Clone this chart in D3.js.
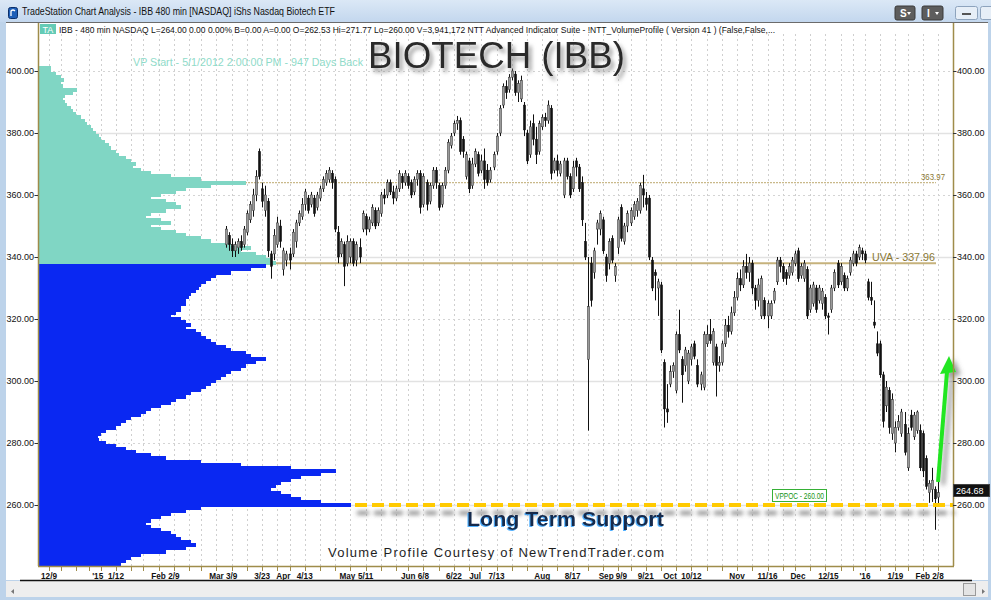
<!DOCTYPE html>
<html><head><meta charset="utf-8">
<script src="https://cdn.jsdelivr.net/npm/d3@7"></script>
<style>body{margin:0;background:#fff;overflow:hidden}svg{display:block}</style>
</head><body>
<script>
// ---------------- DATA ----------------
const firstBar = 58; // trading-day index (0 = 12/9/2014) of first drawn bar
const open = [344,347,344,342,343,345,344,348,352,355,360,374,362,355,358,341,341,344,350,336,339,341,341,345,351,353,357,359,357,359,356,359,362,364,365,367,365,348,341,344,338,340,345,339,343,349,353,349,351,355,351,354,360,360,364,361,359,362,366,364,366,364,361,365,367,357,364,358,363,368,363,357,363,368,376,380,383,384,378,366,371,363,370,373,368,371,368,365,369,374,380,389,395,394,398,399,393,391,389,380,373,383,378,374,382,385,384,388,368,371,367,360,371,366,362,371,369,364,345,307,338,335,349,349,352,340,338,346,334,343,356,345,350,351,353,355,355,362,359,359,339,335,330,331,306,291,299,303,297,315,307,305,300,307,312,305,299,298,312,315,306,311,305,306,312,318,316,322,327,333,331,337,335,338,330,326,321,326,321,321,326,332,339,337,335,334,335,338,342,334,333,336,323,325,330,326,325,327,321,323,330,338,332,334,330,335,338,341,340,342,341,332,327,319,312,312,302,292,297,283,280,285,283,286,272,289,282,284,284,283,275,264,265,265,262.53];
const high = [350,348,346,345,346,347,350,355,358,362,368,375,364,363,359,342,349,353,352,343,342,343,349,352,355,359,362,360,361,360,361,363,366,368,369,368,366,350,346,345,347,346,346,345,346,355,354,353,357,356,356,361,362,365,365,363,363,368,367,368,367,365,366,368,368,367,365,364,369,369,364,364,369,378,380,384,385.5,385,379,374,372,372,375,374,373,375,370,369,374,380,389,396,397,399,400.8,400,397,398.5,390,381,384,386,382,384,386,386.5,390.5,389,372,373,371,372,372,367,371,372,370,366,351,340,340,343,352,355,353,341,346,347,338,353,357,351,355,356,358,359,364,366.5,361,360,340,336,333,332,307,299,305,306,316,323,308,311,310,312,313,307,303,316,318,320,317,312,308,313,320,321,324,329,335,336,339,341,340,339,331,333,334,327,326,326,330,340,340,338,336,338,340,342,343,338,339,337,331,332,331,331,330,328,322,331,336,339,338,335,334,340,342,342,344,343,342,333,332,326,316,313,303,300,298,296,287,289,291,290,285,290.7,290,290.5,286,284,276,268,272,266,271.77];
const low = [343,342,340,340,341,342,343,347,351,353,358,365,356,353,340,333,339,343,343,334,337,336,340,343,350,352,355,354,356,353,355,358,361,363,364,362,348,338,340,330.6,337,338,337,337,338,348,347,348,350,349,350,353,357,359,360,357,358,361,362,363,362,359,360,363,354,356,355,357,362,362,355,356,362,367,375,379,381,373,372,365,360.6,362,369,366,367,362,363,364,368,373,379,388,391,393,397,392,390,390,379,370,372,376,370,373,381,382,383,365,367,366,366,359,365,359,361,366,361,350,339,284,324,333,344,347,341,332,336,338,332,341,345,344,348,350,352,353,354,356,355,339,329,326,321,309,285,286.5,298,301,296,309,293,303,299,305,307,298,297,297,311,312,305,295,303,305,311,314,315,321,326,329,330,333,332,328,323,324,320,320,317,320,325,331,335,332,331,333,334,337,332,333,332,320,322,324,322,325,323,320,315,322,329,330,331,329,329,334,337,337,339,339,338,326,324.5,317,308,301,285,290,283,281,277,284,282,276,271,284,281,283,271,269,265,260.7,261,252,260];
const close = [349,344,342,344,345,343,349,354,357,360,366,366,358,360,342,337,347,351,345,342,341,339,348,351,354,357,361,355,360,354,360,362,365,367,368,364,349,340,345,337,345,345,338,344,340,354,349,352,356,350,355,360,359,364,361,359,362,367,364,367,363,360,365,367,356,366,357,363,368,364,356,363,368,377,379,383,384,374,374,373,362,370,374,367,371,365,364,368,373,379,388,395,393,398,400,393,396,397,381,371,382,378,373,383,385,384,389,367,371,368,370,371,366,360,369,369,362,352,340,324,326,342,351,354,342,334,345,339,337,352,346,350,354,355,357,358,363,360,357,340,330,334,332,310,291,290,303,305,315,310,302,310,309,311,308,299,302,315,315,313,316,305,306,312,318,316,322,327,333,331,337,335,338,330,326,331,333,321,325,325,329,339,337,333,333,337,339,341,333,337,338,321,330,331,323,330,329,321,320.5,330,335,331,337,330,333,339,341,338,343,341,339,327,326,318,309,302,287,298,285,294,285,287,290,277,283,285,289,290,272,271,266,267,268,262,264];

// volume profile (5/1/2012 start), one bin per 1.00 price level from 401 down to 241
const profileVolume = [12,12,17,22,25,22,24,38,34,26,24,26,28,32,34,37,42,46,48,52,54,57,60,62,66,70,72,77,80,87,92,97,94,102,112,132,162,207,172,147,137,122,112,127,137,142,127,112,107,122,132,112,122,137,147,162,172,192,212,202,217,227,232,237,
227,212,192,177,172,167,162,160,157,152,150,147,147,142,142,137,132,142,147,152,147,157,162,167,172,177,187,192,207,212,227,217,207,202,192,187,182,177,172,167,162,152,147,137,132,122,112,107,102,92,87,82,77,67,62,59,60,67,77,87,97,112,127,162,202,252,297,282,262,252,242,237,232,242,252,262,282,312,162,147,132,122,112,107,112,122,132,137,142,152,157,147,127,102,92,87,82];
const profileTop = 401;

const uva = 337.96, level2 = 363.97, vppoc = 260.00, lastPrice = 264.68;
const yTicks = [260,280,300,320,340,360,380,400];
const tickLabels = ["12/9","'15","1/12","Feb","2/9","Mar","3/9","3/23","Apr","4/13","May","5/11","Jun","6/8","6/22","Jul","7/13","Aug","8/17","Sep","9/9","9/21","Oct","10/12","Nov","11/16","Dec","12/15","'16","1/19","Feb","2/8"];
const tickIdx = [0,16,22,36,41,55,60,70,77,84,98,104,118,123,133,140,147,162,172,183,188,196,204,211,226,236,246,256,268,278,287,292];
const weekIdx = [0,4,9,13,17,22,27,31,36,41,46,50,55,60,65,70,75,79,84,89,94,99,104,109,114,118,123,128,133,138,142,147,152,157,162,167,172,177,182,187,191,196,201,206,211,216,221,226,231,236,241,245,250,255,260,264,268,273,278,282,287,292];

// ---------------- LAYOUT ----------------
const W = 991, H = 600;
const PL = 38, PR = 953, PT = 22, PB = 566;
const x = d3.scaleLinear().domain([0, 292]).range([49, 938]);
const y = d3.scaleLinear().domain([260, 400]).range([505, 71]);
const gold = "#9f8c4a";
const FONT = "'Liberation Sans', Arial, sans-serif";

const svg = d3.select("body").append("svg").attr("width", W).attr("height", H)
  .style("font-family", FONT);
const defs = svg.append("defs");
const g1 = defs.append("linearGradient").attr("id","tb").attr("x1",0).attr("y1",0).attr("x2",0).attr("y2",1);
g1.append("stop").attr("offset","0%").attr("stop-color","#dbe8f6");
g1.append("stop").attr("offset","100%").attr("stop-color","#c3d7ee");
function shadow(id, dx, dy, sd, col, op){
  const f = defs.append("filter").attr("id", id).attr("filterUnits","userSpaceOnUse")
    .attr("x",0).attr("y",0).attr("width",W).attr("height",H);
  f.append("feDropShadow").attr("dx",dx).attr("dy",dy).attr("stdDeviation",sd).attr("flood-color",col).attr("flood-opacity",op);
}
shadow("tshadow", 3, 4, 2, "#777", 0.75);
shadow("lshadow", 2, 8, 2.2, "#555", 0.65);
shadow("ashadow", 5, 3, 2.5, "#555", 0.6);
shadow("bshadow", -1, 1, 0.6, "#3fa9ff", 0.9);
const clip = defs.append("clipPath").attr("id","plot");
clip.append("rect").attr("x",PL+1).attr("y",PT+1).attr("width",PR-PL-1).attr("height",PB-PT-1);

// window frame
svg.append("rect").attr("width",W).attr("height",H).attr("fill","#bdd3ea");
svg.append("rect").attr("x",0).attr("y",0).attr("width",W).attr("height",22).attr("fill","url(#tb)");
svg.append("rect").attr("x",8.5).attr("y",7.5).attr("width",9).attr("height",11).attr("rx",2).attr("fill","#1e5fb8").attr("stroke","#0c2f6a");
svg.append("path").attr("d","M11 16 L11 11 Q13 9 15 11").attr("stroke","#fff").attr("stroke-width",1.3).attr("fill","none");
svg.append("text").attr("x",22).attr("y",15).attr("font-size",10.5).attr("fill","#111")
  .attr("textLength",313).attr("lengthAdjust","spacingAndGlyphs")
  .text("TradeStation Chart Analysis - IBB 480 min [NASDAQ] iShs Nasdaq Biotech ETF");
// title buttons
[["S",895,915],["I",922,943]].forEach(([t,a,b])=>{
  svg.append("rect").attr("x",a).attr("y",6).attr("width",b-a).attr("height",14).attr("rx",2).attr("fill","#5d5d5d").attr("stroke","#3a3a3a");
  svg.append("text").attr("x",a+5).attr("y",17).attr("font-size",10).attr("font-weight","bold").attr("fill","#fff").text(t);
  svg.append("path").attr("d",`M${b-8} 12 l4 0 l-2 3 z`).attr("fill","#fff");
});
svg.append("rect").attr("x",955.5).attr("y",6.5).attr("width",22).attr("height",13).attr("rx",2).attr("fill","#e6eef7").attr("stroke","#8da3bd");
svg.append("rect").attr("x",962).attr("y",13).attr("width",9).attr("height",2).attr("fill","#555");
svg.append("rect").attr("x",980.5).attr("y",6.5).attr("width",14).attr("height",13).attr("rx",2).attr("fill","#e6eef7").attr("stroke","#8da3bd");

// white chart body
svg.append("rect").attr("x",6).attr("y",PT).attr("width",W-9).attr("height",580-PT).attr("fill","#fff");
svg.append("line").attr("x1",6).attr("x2",W-3).attr("y1",PT+0.5).attr("y2",PT+0.5).attr("stroke","#6b6b6b");
// scrollbar
svg.append("rect").attr("x",6).attr("y",581).attr("width",W-9).attr("height",16).attr("fill","#eeeeee");
svg.append("line").attr("x1",20).attr("x2",972).attr("y1",580.5).attr("y2",580.5).attr("stroke","#111").attr("stroke-width",1.5);
svg.append("path").attr("d","M14 589 l-3 2.5 l3 2.5 z").attr("fill","#777");
svg.append("rect").attr("x",963.5).attr("y",583.5).attr("width",12).attr("height",12).attr("fill","#e4e4e4").attr("stroke","#9a9a9a");
svg.append("path").attr("d","M982 589 l3 2.5 l-3 2.5 z").attr("fill","#777");

// ---------------- GRID ----------------
const grid = svg.append("g").attr("clip-path","url(#plot)");
grid.selectAll("line.v").data(weekIdx).join("line")
  .attr("x1",d=>Math.round(x(d))+0.5).attr("x2",d=>Math.round(x(d))+0.5)
  .attr("y1",PT+12).attr("y2",PB).attr("stroke","#cfcfcf").attr("stroke-dasharray","2,3");
grid.selectAll("line.h").data(yTicks).join("line")
  .attr("x1",PL).attr("x2",PR).attr("y1",d=>Math.round(y(d))+0.5).attr("y2",d=>Math.round(y(d))+0.5)
  .attr("stroke",d=>(d%40===20)?"#e2e2e2":"#d4d4d4")
  .attr("stroke-width",d=>(d%40===20)?1.5:1)
  .attr("stroke-dasharray",d=>(d%40===20)?null:"2,3");

// key levels
grid.append("line").attr("x1",PL).attr("x2",936).attr("y1",y(level2)).attr("y2",y(level2))
  .attr("stroke","#c9b98a").attr("stroke-width",1.2).attr("stroke-dasharray","2,1");
grid.append("line").attr("x1",PL).attr("x2",936).attr("y1",y(uva)).attr("y2",y(uva))
  .attr("stroke","#c6b27c").attr("stroke-width",2);

// ---------------- VOLUME PROFILE ----------------
const vx = d3.scaleLinear().domain([0, d3.max(profileVolume)]).range([0, 312]);
const prof = svg.append("g").attr("clip-path","url(#plot)").attr("shape-rendering","crispEdges");
prof.selectAll("rect").data(profileVolume).join("rect")
  .attr("x",PL+1)
  .attr("y",(d,i)=>Math.floor(y(profileTop - i + 0.5)))
  .attr("width",d=>vx(d))
  .attr("height",(d,i)=>Math.ceil(y(profileTop - i - 0.5)) - Math.floor(y(profileTop - i + 0.5)))
  .attr("fill",(d,i)=> (profileTop - i) > uva ? "#80d6c4" : "#0a28f2");

// ---------------- CANDLES ----------------
const bars = open.map((o,i)=>({i: firstBar+i, o, h: high[i], l: low[i], c: close[i]}));
const cg = svg.append("g").attr("clip-path","url(#plot)");
cg.selectAll("line").data(bars).join("line")
  .attr("x1",d=>Math.round(x(d.i))+0.5).attr("x2",d=>Math.round(x(d.i))+0.5)
  .attr("y1",d=>y(d.h)).attr("y2",d=>y(d.l)).attr("stroke","#111").attr("stroke-width",1);
cg.selectAll("rect").data(bars).join("rect")
  .attr("x",d=>Math.round(x(d.i))-0.6).attr("width",2.2)
  .attr("y",d=>y(Math.max(d.o,d.c)))
  .attr("height",d=>Math.max(1, Math.abs(y(d.o)-y(d.c))))
  .attr("fill",d=>d.c>=d.o?"#9a9a9a":"#111")
  .attr("stroke",d=>d.c>=d.o?"#333":"#111").attr("stroke-width",0.5);

// support line (with shadow)
svg.append("line").attr("x1",355).attr("x2",PR).attr("y1",y(vppoc)).attr("y2",y(vppoc))
  .attr("stroke","#ffca00").attr("stroke-width",4).attr("stroke-dasharray","12,5")
  .attr("filter","url(#lshadow)");

// green arrow
const ag = svg.append("g").attr("filter","url(#ashadow)");
ag.append("line").attr("x1",938).attr("y1",482).attr("x2",947).attr("y2",372).attr("stroke","#22e622").attr("stroke-width",4);
ag.append("path").attr("d","M940 374 L956 372 L949 356 Z").attr("fill","#22e622");

// ---------------- FRAME & AXES ----------------
svg.append("line").attr("x1",PL+0.5).attr("x2",PL+0.5).attr("y1",PT+1).attr("y2",PB).attr("stroke",gold).attr("stroke-width",1.5);
svg.append("line").attr("x1",PR+0.5).attr("x2",PR+0.5).attr("y1",PT+1).attr("y2",PB).attr("stroke",gold).attr("stroke-width",1.5);
svg.append("line").attr("x1",PL).attr("x2",PR+1).attr("y1",PB+0.5).attr("y2",PB+0.5).attr("stroke",gold).attr("stroke-width",1.5);

const fmt = d3.format(".2f");
const left = svg.append("g");
left.selectAll("text").data(yTicks).join("text")
  .attr("x",34).attr("y",d=>y(d)+3.2).attr("text-anchor","end").attr("font-size",9).attr("fill","#111").text(fmt);
left.selectAll("line").data(yTicks).join("line")
  .attr("x1",34.5).attr("x2",PL).attr("y1",d=>Math.round(y(d))+0.5).attr("y2",d=>Math.round(y(d))+0.5).attr("stroke","#333");
const right = svg.append("g");
right.selectAll("text").data(yTicks).join("text")
  .attr("x",957).attr("y",d=>y(d)+3.2).attr("font-size",9).attr("fill","#111").text(fmt);
right.selectAll("line").data(yTicks).join("line")
  .attr("x1",PR).attr("x2",956.5).attr("y1",d=>Math.round(y(d))+0.5).attr("y2",d=>Math.round(y(d))+0.5).attr("stroke","#333");

// bottom axis
const bx = svg.append("g");
bx.selectAll("line").data(weekIdx).join("line")
  .attr("x1",d=>Math.round(x(d))+0.5).attr("x2",d=>Math.round(x(d))+0.5)
  .attr("y1",PB).attr("y2",PB+5).attr("stroke",gold);
bx.selectAll("text").data(tickLabels).join("text")
  .attr("x",(d,i)=>x(tickIdx[i])).attr("y",579).attr("text-anchor","middle")
  .attr("font-size",8.2).attr("font-weight","bold").attr("fill","#111").text(d=>d);

// last price box
svg.append("rect").attr("x",PR+0.5).attr("y",y(lastPrice)-6).attr("width",36).attr("height",12).attr("fill","#111").attr("stroke","#444");
svg.append("text").attr("x",956).attr("y",y(lastPrice)+3.3).attr("font-size",9).attr("fill","#fff").text(fmt(lastPrice));

// ---------------- TEXT ----------------
svg.append("rect").attr("x",40).attr("y",24).attr("width",16).attr("height",10).attr("fill","#64cbb6");
svg.append("text").attr("x",42.5).attr("y",32.5).attr("font-size",9).attr("fill","#fff").text("TA");
svg.append("text").attr("x",59).attr("y",32.5).attr("font-size",8.6).attr("fill","#111")
  .attr("textLength",716).attr("lengthAdjust","spacingAndGlyphs")
  .text("IBB - 480 min  NASDAQ  L=264.00  0.00  0.00%  B=0.00  A=0.00  O=262.53  Hi=271.77  Lo=260.00  V=3,941,172  NTT Advanced Indicator Suite - !NTT_VolumeProfile ( Version 41 ) (False,False,...");

svg.append("text").attr("x",133).attr("y",66).attr("font-size",11).attr("fill","#8fdbc9")
  .attr("textLength",230).attr("lengthAdjust","spacingAndGlyphs")
  .text("VP Start - 5/1/2012 2:00:00 PM - 947 Days Back");
svg.append("text").attr("x",368).attr("y",68).attr("font-size",37).attr("fill","#2b2b2b")
  .attr("textLength",257).attr("lengthAdjust","spacingAndGlyphs")
  .attr("filter","url(#tshadow)").text("BIOTECH (IBB)");
svg.append("text").attr("x",872).attr("y",y(uva)-2.5).attr("font-size",11).attr("fill","#8a7834")
  .attr("textLength",63).attr("lengthAdjust","spacingAndGlyphs").text("UVA - " + fmt(uva));
svg.append("text").attr("x",921).attr("y",y(level2)-3).attr("font-size",8.5).attr("fill","#8a7834")
  .attr("textLength",24).attr("lengthAdjust","spacingAndGlyphs").text(fmt(level2));
svg.append("rect").attr("x",772.5).attr("y",489.5).attr("width",54).attr("height",12).attr("fill","#fff").attr("stroke","#36b036");
svg.append("text").attr("x",775).attr("y",498.8).attr("font-size",9).attr("fill","#149414")
  .attr("textLength",49).attr("lengthAdjust","spacingAndGlyphs").text("VPPOC - " + fmt(vppoc));

svg.append("text").attr("x",467).attr("y",526).attr("font-size",21).attr("font-weight","bold").attr("fill","#182a4c")
  .attr("textLength",197).attr("lengthAdjust","spacingAndGlyphs").attr("filter","url(#bshadow)")
  .text("Long Term Support");
svg.append("text").attr("x",328).attr("y",556.5).attr("font-size",13).attr("fill","#1e1e1e")
  .attr("textLength",336).attr("lengthAdjust","spacing")
  .text("Volume Profile Courtesy of NewTrendTrader.com");
</script>
</body></html>
